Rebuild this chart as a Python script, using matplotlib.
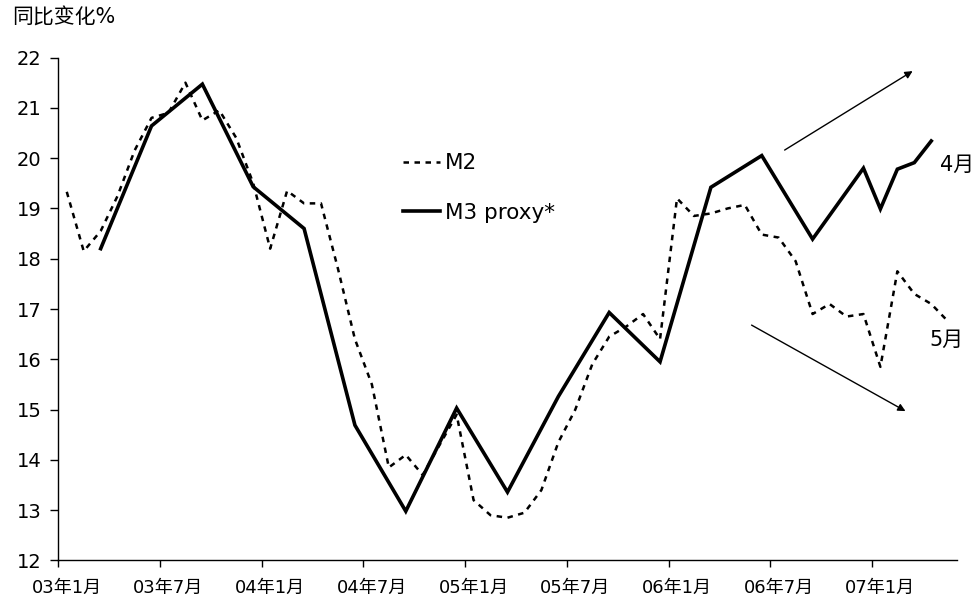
import matplotlib
matplotlib.use('Agg')
import matplotlib.pyplot as plt

# Fonts: DejaVu for latin (matches the wide glyphs), Noto CJK for the Chinese glyphs
plt.rcParams['font.family'] = ['DejaVu Sans', 'Noto Sans CJK SC']

# Monthly M2 growth, 03年1月 .. 07年5月 (yoy %)
m2 = [19.33, 18.15, 18.55, 19.25, 20.15, 20.8, 20.9, 21.5, 20.75, 20.95,
      20.4, 19.5, 18.2, 19.35, 19.1, 19.1, 17.8, 16.4, 15.5, 13.85,
      14.1, 13.7, 14.3, 14.9, 13.2, 12.9, 12.85, 12.95, 13.4, 14.35,
      15.0, 15.9, 16.45, 16.65, 16.9, 16.4, 19.2, 18.85, 18.9, 19.0,
      19.07, 18.48, 18.42, 17.95, 16.9, 17.1, 16.85, 16.9, 15.85, 17.75,
      17.3, 17.1, 16.75]

# M3 proxy: quarterly points, then monthly in 2007 (month index from 03年1月)
m3_idx = [2, 5, 8, 11, 14, 17, 20, 23, 26, 29, 32, 35, 38, 41, 44, 47, 48, 49, 50, 51]
m3 = [18.2, 20.64, 21.47, 19.43, 18.6, 14.69, 12.98, 15.03, 13.36, 15.26,
      16.93, 15.95, 19.42, 20.05, 18.39, 19.8, 18.99, 19.78, 19.91, 20.34]

# Axis labels (one every six months)
tick_labels = ['03年1月', '03年7月', '04年1月', '04年7月', '05年1月',
               '05年7月', '06年1月', '06年7月', '07年1月']
y_ticks = list(range(12, 23))

# Trend arrows (start, end) in data units, and end-of-line notes
arrow_up = ((42.35, 20.16), (49.9, 21.73))
arrow_down = ((40.4, 16.68), (49.48, 14.97))
note_4 = (51.5, 19.86, '4月')
note_5 = (50.9, 16.38, '5月')

fig = plt.figure(figsize=(9.78, 6.01), dpi=100)
ax = fig.add_axes([0.0596, 0.0674, 0.9186, 0.8369])

n = len(m2)
ax.plot(range(n), m2, color='black', lw=1.8, ls=(0, (2.2, 2.2)), label='M2')
ax.plot(m3_idx, m3, color='black', lw=2.6, solid_joinstyle='miter', label='M3 proxy*')

ax.set_xlim(-0.5, n - 0.5)
ax.set_ylim(12, 22)

# Ticks sit between categories, labels on the categories
ax.set_xticks([i * 6 - 0.5 for i in range(len(tick_labels))])
ax.set_xticklabels([])
ax.set_xticks([i * 6 for i in range(len(tick_labels))], minor=True)
ax.set_xticklabels(tick_labels, minor=True)
ax.tick_params(axis='x', which='major', length=5, width=1, direction='out')
ax.tick_params(axis='x', which='minor', length=0, pad=13, labelsize=13)

ax.set_yticks(y_ticks)
ax.tick_params(axis='y', length=6, width=1, direction='out', pad=6, labelsize=14)

for side in ['top', 'right']:
    ax.spines[side].set_visible(False)
for side in ['left', 'bottom']:
    ax.spines[side].set_linewidth(1)

ax.legend(loc='upper left', bbox_to_anchor=(0.3837, 0.810), frameon=False,
          fontsize=15.5, handlelength=1.72, handletextpad=0.23, labelspacing=1.38,
          borderaxespad=0, borderpad=0)

for start, end in [arrow_up, arrow_down]:
    ax.annotate('', xy=end, xytext=start,
                arrowprops=dict(arrowstyle='-|>', lw=1, color='black',
                                mutation_scale=11, shrinkA=0, shrinkB=0))

for x, y, s in [note_4, note_5]:
    ax.text(x, y, s, fontsize=15, ha='left', va='center', clip_on=False)

fig.text(12 / 978, 1 - 18 / 601, '同比变化%', fontsize=15, ha='left', va='center')

fig.savefig('out.png', dpi=100)
